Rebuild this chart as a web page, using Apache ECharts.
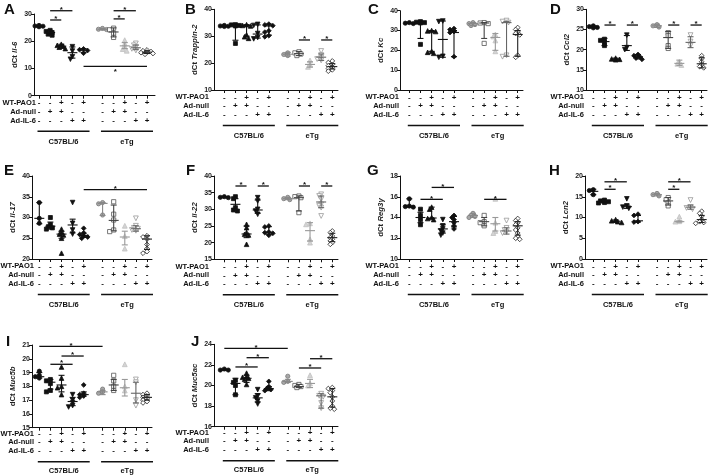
<!DOCTYPE html>
<html><head><meta charset="utf-8">
<script src="https://cdn.jsdelivr.net/npm/echarts@6/dist/echarts.min.js"></script>
<style>html,body{margin:0;padding:0;background:#fff}#c{width:710px;height:475px}</style>
</head><body><div id="c"></div>
<script>
// ---------- data ----------
const panelLetters = ['A','B','C','D','E','F','G','H','I','J'];
const geneNames = ['Il-6','Trappin-2','Kc','Ccl2','Il-17','Il-22','Reg3γ','Lcn2','Muc5b','Muc5ac'];
const strains = ['C57BL/6','eTg'];
const rowNames = ['WT-PAO1','Ad-null','Ad-IL-6'];
const wtPAO1 = ['-','-','+','-','+','-','-','+','-','+'];
const adNull = ['-','+','+','-','-','-','+','+','-','-'];
const adIL6  = ['-','-','-','+','+','-','-','-','+','+'];
const yMin = [0,10,0,10,20,15,10,0,15,16];
const yMax = [30,40,40,30,40,40,18,20,21,24];
const yInterval = [10,10,10,5,5,5,2,5,1,2];

const ptsA = [[25.8,25.6,25.5,25.3],[24.0,23.6,23.2,22.6,22.2],[18.9,18.5,18.2,17.8,17.3],[18.0,16.4,14.3,13.4],[17.2,16.9,16.6,15.6],
  [24.7,24.4,24.3],[24.8,24.2,22.9,21.4],[20.4,19.1,18.0,17.1,16.5],[19.2,18.5,17.8,17.2,16.6],[16.8,16.5,16.2,16.0,15.8,15.5,15.2]];
const barsA = [[25.5,25.3,25.8],[23.2,22.4,24.0],[18.2,17.5,18.9],[15.8,13.8,17.9],[16.7,15.9,17.3],[24.4,24.2,24.7],[23.4,21.6,24.9],[18.3,17.3,19.5],[17.6,16.9,18.6],[16.0,15.5,16.5]];
const sigA = [[1,2,27.8,1],[1,3,31.2,1],[6,7,28.2,1],[6,8,31.2,1],[4,9,10.8,-1]];

const ptsB = [[34.0,33.8,33.7,33.6],[34.3,34.2,34.0,33.8,27.3],[34.3,34.0,33.8,30.5,29.8,29.2],[34.4,34.0,31.0,29.5,29.0],[34.5,34.2,33.9,32.0,31.5,30.2,29.8],
  [23.8,23.2,22.8],[24.2,23.8,23.4,22.8],[21.0,19.5,18.6],[24.5,23.0,22.0,21.5,21.0],[20.8,20.2,19.5,19.0,18.5,18.0,17.5,17.0]];
const barsB = [[33.8,33.6,34.0],[34.0,28.5,34.2],[34.0,30.0,34.3],[30.8,29.3,34.2],[33.8,30.4,34.5],[23.3,22.6,24.0],[23.5,22.8,24.3],[19.5,18.5,20.5],[22.2,21.0,23.4],[18.7,17.8,19.8]];
const sigB = [[6,7,28.6,1],[8,9,28.6,1]];

const ptsC = [[34.0,33.7,33.5],[34.5,34.2,34.0,33.8,23.0],[30.0,29.8,29.5,19.5,19.0,18.5],[34.8,34.5,17.0,16.5],[31.0,30.5,29.5,29.0,16.8],
  [34.0,33.5,33.0,32.5],[34.0,33.8,33.5,23.5],[28.0,27.0,25.0,19.5],[35.0,34.5,34.0,17.5,16.8],[31.5,30.5,29.5,28.5,27.8,17.5,16.5]];
const barsC = [[33.7,33.5,34.0],[34.0,26.0,34.5],[29.5,19.5,30.0],[25.5,16.5,34.8],[29.0,16.8,30.0],[33.5,32.5,34.0],[33.8,26.0,34.0],[26.5,20.0,28.5],[34.0,17.0,34.5],[28.0,17.0,30.0]];
const sigC = [];

const ptsD = [[25.9,25.7,25.5,25.4],[22.6,22.3,21.8,21.0],[17.9,17.7,17.6,17.5],[23.6,20.5,20.0],[18.8,18.5,18.2,17.9,17.6],
  [26.2,25.9,25.6],[24.2,23.5,21.0,20.3],[17.0,16.5,16.2],[23.6,22.0,21.0],[18.5,17.8,17.0,16.3,15.8,15.5]];
const barsD = [[25.6,25.4,25.9],[22.0,21.0,22.8],[17.7,17.5,17.9],[21.0,19.8,23.5],[18.2,17.7,18.8],[25.9,25.5,26.3],[23.0,20.3,24.5],[16.6,16.1,17.4],[21.8,20.5,23.2],[16.5,15.5,18.0]];
const sigD = [[1,2,26.1,1],[3,4,26.1,1],[6,7,26.1,1],[8,9,26.1,1]];

const ptsE = [[33.6,29.8,28.6],[30.0,28.3,27.8,27.5,27.2],[27.2,26.5,26.0,25.8,25.0,21.4],[33.6,28.6,27.0,26.0],[27.4,26.3,25.9,25.6,25.3,25.0],
  [33.6,33.3,30.6],[33.8,30.8,29.4,27.0,26.6],[28.0,25.5,22.5],[29.8,28.0,27.5,27.3,27.0,26.8],[25.6,25.3,24.8,23.5,22.5,21.8,21.4]];
const barsE = [[29.8,28.5,33.6],[27.9,27.2,28.9],[26.0,25.0,26.7],[28.2,26.3,29.6],[25.7,25.2,26.2],[33.4,30.5,33.6],[29.3,26.8,33.0],[25.3,23.4,26.7],[27.3,26.7,28.0],[24.8,22.3,25.6]];
const sigE = [[4,9,36.7,1]];

const ptsF = [[33.8,33.6,33.5],[33.8,33.2,30.5,29.8,29.5],[25.5,24.5,23.0,22.5,22.3,19.5],[33.5,32.5,30.0,29.5,28.5],[25.0,24.7,23.2,23.0,22.8,22.2],
  [33.6,33.2,32.9],[34.0,33.8,33.5,29.0],[25.8,25.5,21.0,20.0],[34.5,34.0,33.0,31.5,31.0,30.5,28.0],[23.5,23.0,22.0,21.5,21.0,20.5,20.0,19.5]];
const barsF = [[33.6,33.5,33.8],[31.5,29.8,33.2],[22.6,21.5,25.0],[29.8,28.8,32.8],[23.1,22.5,24.8],[33.2,32.9,33.6],[33.5,29.5,34.0],[23.6,20.5,26.0],[32.2,30.5,34.0],[21.5,20.3,22.8]];
const sigF = [[1,2,37,1],[3,4,37,1],[6,7,37,1],[8,9,37,1]];

const ptsG = [[15.8,15.1,15.05,15.0],[14.8,14.2,13.8,13.3],[15.0,14.8,14.0,13.9,13.8],[13.8,13.2,12.9,12.7,12.5,12.3],[14.2,14.0,13.8,13.5,13.2,12.9],
  [14.4,14.2,14.1,14.0],[14.2,13.6,13.5,13.2],[15.8,13.5,12.7,12.5],[13.7,13.0,12.8,12.6,12.5],[13.9,13.7,13.5,13.3,13.0,12.8,12.5,12.2,12.0,11.9]];
const barsG = [[15.1,15.0,15.8],[14.0,13.5,14.5],[13.95,13.9,15.0],[12.9,12.5,13.3],[13.6,13.1,14.1],[14.2,14.0,14.4],[13.6,13.2,14.0],[13.4,12.7,14.0],[12.7,12.4,13.0],[13.2,12.3,13.6]];
const sigG = [[1,3,15.75,1],[2,4,16.9,1],[6,8,15.75,1]];

const ptsH = [[16.7,16.5,15.5],[14.2,14.0,13.8,13.6,13.5],[9.5,9.2,9.0,8.8],[14.5,12.8,12.5,12.2],[10.8,10.5,9.0,8.9],
  [15.8,15.5,15.2],[14.8,14.3,13.5,12.8],[10.2,9.1,9.0],[14.2,12.5,12.3,12.0],[11.5,11.0,10.3,9.5,9.0,8.8,8.6]];
const barsH = [[16.3,15.5,16.8],[13.8,13.5,14.1],[9.1,8.8,9.4],[12.6,12.2,13.0],[9.2,8.9,10.5],[15.5,15.2,15.8],[14.0,13.0,14.8],[9.0,8.9,9.2],[12.5,12.0,13.0],[9.5,8.8,10.5]];
const sigH = [[1,2,16.8,1],[1,3,18.6,1],[6,7,16.8,1],[6,8,18.6,1]];

const ptsI = [[19.1,18.8,18.7,18.6],[18.5,18.4,18.2,17.7,17.6],[19.4,18.6,18.0,17.9,17.4],[17.4,17.0,16.8,16.6,16.5],[18.1,17.5,17.4,17.3,17.2],
  [17.8,17.6,17.5],[18.8,18.4,18.0,17.7],[19.6,18.0,17.7],[18.5,18.3,17.0,16.6],[17.5,17.4,17.3,17.2,17.1,17.0,16.9,16.8]];
const barsI = [[18.7,18.6,19.0],[18.3,17.8,18.5],[18.1,17.6,18.8],[16.9,16.6,17.2],[17.4,17.3,17.6],[17.6,17.4,17.7],[18.1,17.7,18.5],[17.9,17.3,18.5],[17.5,16.8,18.3],[17.2,17.0,17.4]];
const sigI = [[0,5,20.9,1],[1,3,19.6,1],[2,4,20.2,1]];

const ptsJ = [[21.6,21.5,21.5],[20.5,20.3,20.0,19.1],[21.2,20.9,20.8,20.7,20.6,20.1],[19.6,19.0,18.8,18.5,18.2],[20.4,19.9,19.7,19.6,19.5],
  [20.9,20.4,20.3],[20.1,20.0,19.9,19.8],[21.0,20.2,20.0],[19.2,19.0,18.9,18.3,17.8],[19.8,19.7,19.5,19.3,18.9,18.5,18.0,17.8,17.7]];
const barsJ = [[21.5,21.5,21.6],[20.2,19.1,20.7],[20.7,20.3,21.0],[18.8,18.4,19.2],[19.7,19.5,19.9],[20.4,20.3,20.6],[19.9,19.8,20.1],[20.2,19.8,20.6],[19.0,17.8,19.2],[18.9,17.9,19.7]];
const sigJ = [[0,5,23.6,1],[1,3,21.8,1],[2,4,22.7,1],[6,8,21.7,1],[7,9,22.6,1]];

const allPts = [ptsA,ptsB,ptsC,ptsD,ptsE,ptsF,ptsG,ptsH,ptsI,ptsJ];
const allBars = [barsA,barsB,barsC,barsD,barsE,barsF,barsG,barsH,barsI,barsJ];
const allSig = [sigA,sigB,sigC,sigD,sigE,sigF,sigG,sigH,sigI,sigJ];

// ---------- layout & style ----------
const groupPos = [1,2,3,4,5,6.7,7.7,8.7,9.7,10.7];
const tabTop = {margin:3, row:7.4, line:35.5, label:46};
const tabBot = {margin:1.5, row:5.9, line:34, label:43.5};
const layout = [
  {ax:34, x1:39, x10:147, end:155, top:14, bottom:95.7, rowR:36, letter:[4,2], tab:tabTop},
  {ax:214, x1:224.3, x10:332.3, end:338, top:9.3, bottom:90, rowR:209, letter:[185,2], tab:tabTop},
  {ax:400, x1:409.3, x10:517.7, end:523, top:10.7, bottom:90, rowR:399, letter:[368,2], tab:tabTop},
  {ax:586, x1:593.3, x10:701.7, end:707, top:9.3, bottom:90, rowR:584, letter:[550,2], tab:tabTop},
  {ax:32, x1:39.3, x10:147, end:152, top:176, bottom:259, rowR:34, letter:[4,163], tab:tabTop},
  {ax:214, x1:224.3, x10:332.3, end:338, top:176, bottom:259.3, rowR:209, letter:[186,163], tab:tabTop},
  {ax:400, x1:409.3, x10:517.7, end:523, top:176, bottom:259, rowR:399, letter:[367,163], tab:tabTop},
  {ax:585, x1:593.3, x10:701.7, end:707, top:176, bottom:259, rowR:584, letter:[549,163], tab:tabTop},
  {ax:32, x1:39.3, x10:147, end:152, top:345, bottom:427.7, rowR:34, letter:[6,334], tab:tabBot},
  {ax:214, x1:224.3, x10:332.3, end:338, top:344.3, bottom:426.7, rowR:209, letter:[191,334], tab:tabBot}
];
const FONT = 'Liberation Sans, Arial, Helvetica, sans-serif';
const symStyles = [
  {symbol:'circle', rot:0, size:4.2, fill:'#111', stroke:'#111'},
  {symbol:'rect', rot:0, size:4, fill:'#111', stroke:'#111'},
  {symbol:'triangle', rot:0, size:4.6, fill:'#111', stroke:'#111'},
  {symbol:'triangle', rot:180, size:4.6, fill:'#111', stroke:'#111'},
  {symbol:'diamond', rot:0, size:4.8, fill:'#111', stroke:'#111'},
  {symbol:'circle', rot:0, size:4.2, fill:'#a8a8a8', stroke:'#777'},
  {symbol:'rect', rot:0, size:4.2, fill:'#fff', stroke:'#555'},
  {symbol:'triangle', rot:0, size:4.8, fill:'#d4d4d4', stroke:'#c0c0c0'},
  {symbol:'triangle', rot:180, size:4.8, fill:'#fff', stroke:'#999'},
  {symbol:'diamond', rot:0, size:4.8, fill:'#fff', stroke:'#222'}
];
const barColors = ['#111','#111','#111','#111','#111','#888','#444','#999','#666','#222'];

function spread(vals, ppu, unit) {
  const placed = [], offs = [];
  vals.forEach(v => {
    const py = v * ppu; let best = 0;
    for (const k of [0,-1,1,-2,2,-3,3]) {
      const ox = k * 2.0;
      if (placed.every(p => Math.hypot(p[0]-ox, p[1]-py) >= 2.6)) { best = ox; break; }
    }
    placed.push([best, py]); offs.push(best / unit);
  });
  return offs;
}

const grids = [], xAxes = [], yAxes = [], series = [];
layout.forEach((L, i) => {
  const unit = (L.x10 - L.x1) / (groupPos[9] - groupPos[0]);
  const xmin = groupPos[0] - (L.x1 - L.ax) / unit;
  const xmax = xmin + (L.end - L.ax) / unit;
  const ppu = (L.bottom - L.top) / (yMax[i] - yMin[i]);
  grids.push({left:L.ax, top:L.top, width:L.end - L.ax, height:L.bottom - L.top, containLabel:false, outerBoundsMode:'none'});
  xAxes.push({
    type:'value', gridIndex:i, min:xmin, max:xmax,
    axisLine:{show:true, onZero:false, lineStyle:{color:'#111', width:1}},
    axisTick:{show:true, customValues:groupPos, length:3, lineStyle:{color:'#111', width:1}},
    axisLabel:{show:true, customValues:groupPos, margin:L.tab.margin, fontSize:8, fontWeight:'bold', lineHeight:8.7, color:'#111', fontFamily:FONT,
      formatter:(v)=>{ const g = groupPos.findIndex(q=>Math.abs(q-v)<1e-6); return g<0 ? '' : [wtPAO1[g], adNull[g], adIL6[g]].join('\n'); }},
    splitLine:{show:false}
  });
  yAxes.push({
    type:'value', gridIndex:i, min:yMin[i], max:yMax[i], interval:yInterval[i],
    axisLine:{show:true, lineStyle:{color:'#111', width:1}},
    axisTick:{show:true, length:3, lineStyle:{color:'#111', width:1}},
    axisLabel:{fontSize:7, fontWeight:'bold', color:'#222', margin:2, fontFamily:FONT},
    splitLine:{show:false},
    name:'{n|dCt }{i|' + geneNames[i] + '}', nameLocation:'middle', nameRotate:90, nameGap:15,
    nameTextStyle:{rich:{n:{fontSize:7.8, fontWeight:'bold', color:'#222', fontFamily:FONT}, i:{fontSize:7.8, fontStyle:'italic', fontWeight:'bold', color:'#222', fontFamily:FONT}}}
  });
  allPts[i].forEach((vals, g) => {
    const offs = spread(vals, ppu, unit);
    const s = symStyles[g];
    series.push({
      type:'scatter', xAxisIndex:i, yAxisIndex:i, symbol:s.symbol, symbolRotate:s.rot, symbolSize:s.size, silent:true, z:3,
      itemStyle:{color:s.fill, borderColor:s.stroke, borderWidth:0.8, opacity:1},
      data: vals.map((v, k) => [groupPos[g] + offs[k], v])
    });
  });
  series.push({
    type:'custom', xAxisIndex:i, yAxisIndex:i, clip:false, silent:true, z:4,
    encode:{x:0, y:[1,2,3]},
    data: allBars[i].map((b, g) => [groupPos[g], b[0], b[1], b[2], g]),
    renderItem:(params, api) => {
      const x = api.value(0), g = api.value(4);
      const pc = api.coord([x, api.value(1)]), pl = api.coord([x, api.value(2)]), ph = api.coord([x, api.value(3)]);
      const st = {stroke:barColors[g], lineWidth:1.1};
      return {type:'group', children:[
        {type:'line', shape:{x1:pl[0], y1:pl[1], x2:ph[0], y2:ph[1]}, style:st},
        {type:'line', shape:{x1:pl[0]-3, y1:pl[1], x2:pl[0]+3, y2:pl[1]}, style:st},
        {type:'line', shape:{x1:ph[0]-3, y1:ph[1], x2:ph[0]+3, y2:ph[1]}, style:st},
        {type:'line', shape:{x1:pc[0]-5, y1:pc[1], x2:pc[0]+5, y2:pc[1]}, style:st}
      ]};
    }
  });
  if (allSig[i].length) series.push({
    type:'custom', xAxisIndex:i, yAxisIndex:i, clip:false, silent:true, z:5,
    encode:{x:[0,1], y:2},
    data: allSig[i].map(s => [groupPos[s[0]], groupPos[s[1]], s[2], s[3]]),
    renderItem:(params, api) => {
      const y = api.value(2), side = api.value(3);
      const p1 = api.coord([api.value(0), y]), p2 = api.coord([api.value(1), y]);
      const mx = (p1[0] + p2[0]) / 2;
      return {type:'group', children:[
        {type:'line', shape:{x1:p1[0], y1:p1[1], x2:p2[0], y2:p2[1]}, style:{stroke:'#111', lineWidth:1.3}},
        {type:'text', style:{text:'*', x:mx, y: side > 0 ? p1[1] + 3 : p1[1] + 2, align:'center', verticalAlign: side > 0 ? 'bottom' : 'top', font:'bold 8px ' + FONT, fill:'#111'}}
      ]};
    }
  });
});

const chart = echarts.init(document.getElementById('c'));
chart.setOption({animation:false, backgroundColor:'#fff', grid:grids, xAxis:xAxes, yAxis:yAxes, series:series});

const graphics = [];
layout.forEach((L, i) => {
  graphics.push({type:'text', left:L.letter[0], top:L.letter[1], style:{text:panelLetters[i], font:'bold 15px ' + FONT, fill:'#111'}});
  rowNames.forEach((r, k) => {
    graphics.push({type:'text', x:L.rowR, y:L.bottom + L.tab.row + k * 8.7, style:{text:r, align:'right', verticalAlign:'middle', font:'bold 7.5px ' + FONT, fill:'#111'}});
  });
  strains.forEach((s, si) => {
    const xa = chart.convertToPixel({gridIndex:i}, [groupPos[si*5], yMin[i]])[0] - 1.5;
    const xb = chart.convertToPixel({gridIndex:i}, [groupPos[si*5+4], yMin[i]])[0] + 6;
    const yl = L.bottom + L.tab.line;
    graphics.push({type:'line', shape:{x1:xa, y1:yl, x2:xb, y2:yl}, style:{stroke:'#111', lineWidth:1.4}});
    graphics.push({type:'text', x:(xa + xb) / 2, y:L.bottom + L.tab.label, style:{text:s, align:'center', verticalAlign:'middle', font:'bold 7.5px ' + FONT, fill:'#111'}});
  });
});
chart.setOption({graphic:graphics});
</script>
</body></html>
